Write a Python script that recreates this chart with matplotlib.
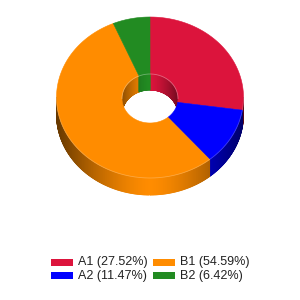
import numpy as np
import matplotlib
matplotlib.use("Agg")
import matplotlib.pyplot as plt
from matplotlib.collections import PolyCollection
from matplotlib.patches import Polygon, Rectangle
from matplotlib.colors import to_rgb

# data, clockwise from 12 o'clock
labels = ["A1", "A2", "B1", "B2"]
values = [27.52, 11.47, 54.59, 6.42]
colors = ["#DC143C", "#0000FF", "#FF8C00", "#228B22"]

# geometry in pixels (image coords, y down)
CX = 150.0
CY_OUT, RX_OUT, RY_OUT = 97.5, 93.5, 80.5
CY_IN, RX_IN, RY_IN = 98.5, 28.0, 24.5
DEPTH_OUT = 17.0
DEPTH_IN = 16.0


def pt(t, rx, ry, cy, dy=0.0):
    return CX + rx * np.sin(t), cy - ry * np.cos(t) + dy


def shade(col, u, k=0.6):
    f = 1.0 - k * abs(u) ** 1.5
    return tuple(c * f for c in to_rgb(col))


def wall_strips(a0, a1, lo, hi, rx, ry, cy, depth, col, k=0.6):
    a0, a1 = max(a0, lo), min(a1, hi)
    polys, cols = [], []
    if a1 <= a0:
        return polys, cols
    ts = np.linspace(a0, a1, max(2, int((a1 - a0) / np.radians(0.5)) + 2))
    for t1, t2 in zip(ts[:-1], ts[1:]):
        x1, y1 = pt(t1, rx, ry, cy)
        x2, y2 = pt(t2, rx, ry, cy)
        polys.append([(x1, y1), (x2, y2), (x2, y2 + depth), (x1, y1 + depth)])
        cols.append(shade(col, np.sin((t1 + t2) / 2), k))
    return polys, cols


fig = plt.figure(figsize=(3, 3), dpi=100)
ax = fig.add_axes([0, 0, 1, 1])
ax.set_xlim(0, 300)
ax.set_ylim(300, 0)
ax.axis("off")

total = sum(values)
bounds = np.concatenate([[0], np.cumsum(values)]) / total * 2 * np.pi

# outer side wall (front half)
polys, cols = [], []
for i, col in enumerate(colors):
    p, c = wall_strips(bounds[i], bounds[i + 1], np.pi / 2, 3 * np.pi / 2,
                       RX_OUT, RY_OUT, CY_OUT, DEPTH_OUT, col)
    polys += p
    cols += c
# inner wall (back half of the hole)
for i, col in enumerate(colors):
    for off in (0, 2 * np.pi):
        for lo, hi in [(-np.pi / 2, np.pi / 2), (3 * np.pi / 2, 5 * np.pi / 2)]:
            p, c = wall_strips(bounds[i] + off, bounds[i + 1] + off, lo, hi,
                               RX_IN, RY_IN, CY_IN, DEPTH_IN, col, k=0.45)
            polys += p
            cols += c
ax.add_collection(PolyCollection(polys, facecolors=cols, edgecolors=cols,
                                 linewidths=0.6))

# top face
for i, col in enumerate(colors):
    ts = np.linspace(bounds[i], bounds[i + 1], 200)
    ox, oy = pt(ts, RX_OUT, RY_OUT, CY_OUT)
    ix, iy = pt(ts[::-1], RX_IN, RY_IN, CY_IN)
    xy = np.column_stack([np.concatenate([ox, ix]), np.concatenate([oy, iy])])
    ax.add_patch(Polygon(xy, closed=True, facecolor=col, edgecolor=col,
                         linewidth=0.4))

# faint highlight rims
ts = np.linspace(-np.pi / 2, np.pi / 2, 200)
ax.plot(*pt(ts, RX_IN, RY_IN, CY_IN), color="white", alpha=0.35, lw=0.6)
ts = np.linspace(np.pi / 2, 3 * np.pi / 2, 300)
ax.plot(*pt(ts, RX_OUT, RY_OUT, CY_OUT), color="white", alpha=0.25, lw=0.6)

# legend, two columns
for i, (lab, val, col) in enumerate(zip(labels, values, colors)):
    x0 = 51 + 102 * (i // 2)
    y0 = 262.5 + 13 * (i % 2)
    ax.add_patch(Rectangle((x0, y0 - 3.5), 22, 7, facecolor=col,
                           edgecolor="none"))
    ax.text(x0 + 27, y0, "%s (%.2f%%)" % (lab, val), fontsize=9,
            family="Liberation Sans", color="#222222", va="center",
            ha="left")

fig.savefig("out.png", dpi=100)
